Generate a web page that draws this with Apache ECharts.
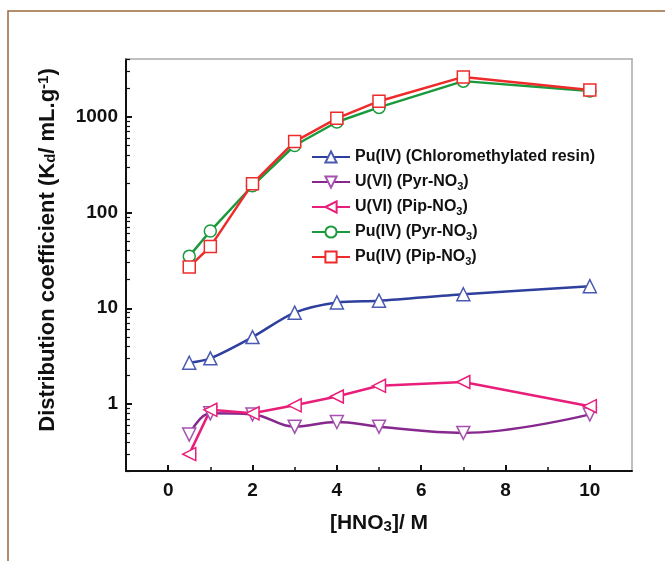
<!DOCTYPE html>
<html>
<head>
<meta charset="utf-8">
<script src="https://cdn.jsdelivr.net/npm/echarts@6/dist/echarts.min.js"></script>
<style>
  html, body { margin: 0; padding: 0; background: #fff; }
  #chart { width: 665px; height: 561px; }
</style>
</head>
<body>
<div id="chart"></div>
<script>
// [HNO3] in M
var acidConc = [0.5, 1, 2, 3, 4, 5, 7, 10];

// Kd values
var puChloro = [2.7, 3.0, 5.0, 9.0, 11.5, 12, 14, 17];
var uPyr = [0.48, 0.8, 0.78, 0.58, 0.65, 0.58, 0.5, 0.78];
var uPip = [0.3, 0.87, 0.8, 0.97, 1.2, 1.55, 1.7, 0.95];
var puPyr = [35, 64, 190, 500, 880, 1250, 2350, 1850];
var puPip = [27, 44, 200, 550, 960, 1450, 2600, 1900];

var xMajor = [0, 2, 4, 6, 8, 10];
var xMinor = [1, 3, 5, 7, 9];
var yMajor = [1, 10, 100, 1000];
var yMinor = [0.2, 0.3, 0.4, 0.5, 0.6, 0.7, 0.8, 0.9,
  2, 3, 4, 5, 6, 7, 8, 9,
  20, 30, 40, 50, 60, 70, 80, 90,
  200, 300, 400, 500, 600, 700, 800, 900,
  2000, 3000, 4000];

function pairs(ys) {
  return acidConc.map(function(x, i) { return [x, ys[i]]; });
}

var font = '"Liberation Sans", Arial, sans-serif';

function makeSeries(name, ys, color, symbol, opts) {
  var s = {
    name: name,
    type: 'line',
    data: pairs(ys),
    symbol: symbol,
    symbolSize: 13,
    lineStyle: {color: color, width: 2.5},
    itemStyle: {color: '#fff', borderColor: color, borderWidth: 1.5},
    emphasis: {disabled: true}
  };
  for (var k in opts) { s[k] = opts[k]; }
  return s;
}

var chart = echarts.init(document.getElementById('chart'));
chart.setOption({
  animation: false,
  backgroundColor: '#fff',
  graphic: [{
    type: 'rect',
    shape: {x: 8, y: 11, width: 700, height: 600},
    style: {fill: 'none', stroke: '#9c6a3c', lineWidth: 1.5},
    silent: true
  }],
  grid: {left: 126, top: 59, right: 33, bottom: 90},
  legend: {
    left: 306, top: 142, orient: 'vertical',
    itemWidth: 38, itemHeight: 14, itemGap: 5,
    textStyle: {
      fontFamily: font, fontWeight: 'bold', fontSize: 16, color: '#111',
      lineHeight: 20,
      rich: {
        sub: {fontFamily: font, fontWeight: 'bold', fontSize: 11, color: '#111',
          lineHeight: 11, verticalAlign: 'bottom', padding: [9, 0, 0, 0]}
      }
    },
    formatter: function(name) {
      return name.replace('NO3', 'NO{sub|3}');
    },
    data: ['Pu(IV) (Chloromethylated resin)', 'U(VI) (Pyr-NO3)', 'U(VI) (Pip-NO3)',
      'Pu(IV) (Pyr-NO3)', 'Pu(IV) (Pip-NO3)']
  },
  xAxis: [{
    type: 'value', min: -1, max: 11, position: 'bottom',
    name: '[HNO{sub|3}]/ M', nameLocation: 'middle', nameGap: 38,
    nameTextStyle: {
      fontFamily: font, fontWeight: 'bold', fontSize: 21, color: '#111',
      rich: {sub: {fontFamily: font, fontWeight: 'bold', fontSize: 15, color: '#111',
        lineHeight: 14, verticalAlign: 'bottom', padding: [14, 0, 0, 0]}}
    },
    axisLine: {onZero: false, lineStyle: {color: '#111', width: 2}},
    axisTick: {inside: true, length: 6, lineStyle: {color: '#111', width: 2},
      customValues: xMajor},
    axisLabel: {customValues: xMajor, margin: 10, fontFamily: font,
      fontWeight: 'bold', fontSize: 19, color: '#111'},
    splitLine: {show: false}
  }, {
    type: 'value', min: -1, max: 11, position: 'bottom',
    axisLine: {show: false, onZero: false},
    axisTick: {inside: true, length: 4, lineStyle: {color: '#111', width: 1.5},
      customValues: xMinor},
    axisLabel: {show: false},
    splitLine: {show: false}
  }, {
    type: 'value', min: -1, max: 11, position: 'top',
    axisLine: {onZero: false, lineStyle: {color: '#aaa', width: 1.5}},
    axisTick: {show: false}, axisLabel: {show: false}, splitLine: {show: false}
  }],
  yAxis: [{
    type: 'log', logBase: 10, min: 0.2, max: 4000, position: 'left',
    name: 'Distribution coefficient (K{sub|d}/ mL.g{sup|-1})',
    nameLocation: 'middle', nameGap: 64,
    nameTextStyle: {
      fontFamily: font, fontWeight: 'bold', fontSize: 22, color: '#111',
      padding: [0, 0, 0, 30],
      rich: {
        sub: {fontFamily: font, fontWeight: 'bold', fontSize: 15, color: '#111',
          lineHeight: 14, verticalAlign: 'bottom', padding: [13, 0, 0, 0]},
        sup: {fontFamily: font, fontWeight: 'bold', fontSize: 15, color: '#111',
          lineHeight: 14, verticalAlign: 'top', padding: [0, 0, 13, 0]}
      }
    },
    axisLine: {onZero: false, lineStyle: {color: '#111', width: 2}},
    axisTick: {inside: true, length: 6, lineStyle: {color: '#111', width: 2},
      customValues: yMajor},
    axisLabel: {customValues: yMajor, margin: 8, fontFamily: font,
      fontWeight: 'bold', fontSize: 19, color: '#111',
      formatter: function(v) { return String(v); }},
    splitLine: {show: false}
  }, {
    type: 'log', logBase: 10, min: 0.2, max: 4000, position: 'left',
    axisLine: {show: false, onZero: false},
    axisTick: {inside: true, length: 4, lineStyle: {color: '#111', width: 1.2},
      customValues: yMinor},
    axisLabel: {show: false},
    splitLine: {show: false}
  }, {
    type: 'log', logBase: 10, min: 0.2, max: 4000, position: 'right',
    axisLine: {onZero: false, lineStyle: {color: '#aaa', width: 1.5}},
    axisTick: {show: false}, axisLabel: {show: false}, splitLine: {show: false}
  }],
  series: [
    makeSeries('Pu(IV) (Chloromethylated resin)', puChloro, '#2e3f9e', 'triangle',
      {smooth: 0.3, itemStyle: {color: '#fff', borderColor: '#4a5ab0', borderWidth: 1.5}}),
    makeSeries('U(VI) (Pyr-NO3)', uPyr, '#86288e', 'triangle',
      {smooth: 0.4, symbolRotate: 180,
        itemStyle: {color: '#fff', borderColor: '#a552b0', borderWidth: 1.5}}),
    makeSeries('U(VI) (Pip-NO3)', uPip, '#e81e7a', 'triangle',
      {symbolRotate: 90}),
    makeSeries('Pu(IV) (Pyr-NO3)', puPyr, '#1a9a3c', 'circle', {symbolSize: 12}),
    makeSeries('Pu(IV) (Pip-NO3)', puPip, '#ee2b2b', 'rect', {symbolSize: 12})
  ]
});
</script>
</body>
</html>
